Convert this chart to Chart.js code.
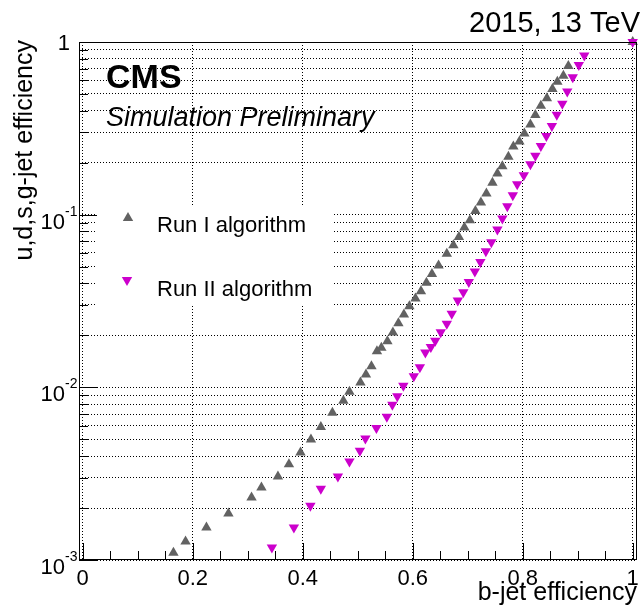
<!DOCTYPE html>
<html>
<head>
<meta charset="utf-8">
<script src="https://cdn.jsdelivr.net/npm/chart.js@4.4.1/dist/chart.umd.min.js"></script>
<style>
  html, body { margin: 0; padding: 0; background: #fff; }
  #wrap { width: 643px; height: 605px; position: relative; }
</style>
</head>
<body>
<div id="wrap"><canvas id="plot"></canvas></div>
<script>
// b-tag performance curves

const runIBEff = [0.165, 0.187, 0.225, 0.265, 0.307, 0.325, 0.355, 0.375, 0.396, 0.415,
  0.433, 0.454, 0.474, 0.485, 0.505, 0.515, 0.525, 0.535, 0.543, 0.554,
  0.564, 0.574, 0.584, 0.594, 0.605, 0.615, 0.625, 0.635, 0.647, 0.662,
  0.674, 0.684, 0.694, 0.704, 0.714, 0.724, 0.734, 0.745, 0.754, 0.763,
  0.774, 0.783, 0.794, 0.803, 0.814, 0.823, 0.833, 0.844, 0.854, 0.863,
  0.874, 0.883, 1.0];
const runIMistag = [1.10e-3, 1.28e-3, 1.54e-3, 1.86e-3, 2.30e-3, 2.63e-3, 3.05e-3, 3.59e-3, 4.20e-3, 4.99e-3,
  5.89e-3, 7.13e-3, 8.37e-3, 9.44e-3, 1.065e-2, 1.185e-2, 1.324e-2, 1.618e-2, 1.693e-2, 1.849e-2,
  2.077e-2, 2.351e-2, 2.641e-2, 2.952e-2, 3.272e-2, 3.607e-2, 4.035e-2, 4.526e-2, 5.085e-2, 5.944e-2,
  6.643e-2, 7.424e-2, 8.415e-2, 9.28e-2, 0.1051, 0.1176, 0.1326, 0.1528, 0.1733, 0.1910,
  0.2163, 0.2478, 0.2649, 0.2956, 0.3333, 0.3774, 0.4275, 0.4719, 0.5343, 0.5891,
  0.6383, 0.725, 1.0];

const runIIBEff = [0.344, 0.384, 0.414, 0.433, 0.464, 0.485, 0.504, 0.514, 0.534, 0.553,
  0.563, 0.572, 0.583, 0.602, 0.613, 0.623, 0.633, 0.641, 0.651, 0.662,
  0.671, 0.682, 0.692, 0.702, 0.713, 0.723, 0.733, 0.743, 0.754, 0.763,
  0.772, 0.782, 0.790, 0.802, 0.814, 0.823, 0.833, 0.843, 0.853, 0.862,
  0.872, 0.881, 0.891, 0.902, 0.912, 1.0];
const runIIMistag = [1.18e-3, 1.54e-3, 2.06e-3, 2.59e-3, 3.05e-3, 3.72e-3, 4.29e-3, 5.06e-3, 5.81e-3, 6.76e-3,
  7.93e-3, 8.89e-3, 1.023e-2, 1.161e-2, 1.305e-2, 1.590e-2, 1.711e-2, 1.859e-2, 2.085e-2, 2.333e-2,
  2.667e-2, 3.186e-2, 3.558e-2, 4.079e-2, 4.693e-2, 5.315e-2, 6.131e-2, 6.915e-2, 8.193e-2, 9.49e-2,
  0.1119, 0.1296, 0.1501, 0.1693, 0.1961, 0.2197, 0.2495, 0.2851, 0.3259, 0.3789,
  0.4390, 0.5167, 0.6248, 0.7364, 0.8360, 1.0];

// axis ticks
const xTickValues = [0, 0.2, 0.4, 0.6, 0.8, 1];
const xTickLabels = ["0", "0.2", "0.4", "0.6", "0.8", "1"];
const xMinorTicks = [0.05, 0.1, 0.15, 0.25, 0.3, 0.35, 0.45, 0.5, 0.55, 0.65, 0.7, 0.75, 0.85, 0.9, 0.95];
const yDecades = [1e-3, 1e-2, 1e-1, 1];
const yDecadeExp = ["-3", "-2", "-1", ""];
const yMinorSteps = [2, 3, 4, 5, 6, 7, 8, 9];

const grayColor = "#626262";
const magentaColor = "#cc00cc";
const markerRadius = 6;
const font = "'Liberation Sans', Arial, Helvetica, sans-serif";

function toPoints(xs, ys) {
  return xs.map((x, i) => ({ x: x, y: ys[i] }));
}

// all horizontal grid positions: 1..9 x 10^n
function yGridValues() {
  const vals = [];
  yDecades.forEach((d, i) => {
    vals.push(d);
    if (i < yDecades.length - 1) {
      yMinorSteps.forEach((s) => vals.push(+(s * d).toPrecision(3)));
    }
  });
  return vals;
}

function drawTriangle(ctx, x, y, r, down, color) {
  ctx.save();
  ctx.translate(x, y);
  if (down) ctx.rotate(Math.PI);
  ctx.beginPath();
  ctx.moveTo(0, -r);
  ctx.lineTo(r * 0.866, r * 0.5);
  ctx.lineTo(-r * 0.866, r * 0.5);
  ctx.closePath();
  ctx.fillStyle = color;
  ctx.fill();
  ctx.restore();
}

// ROOT-like frame, ticks, labels and texts
const rootStyle = {
  id: "rootStyle",
  beforeDatasetsDraw(chart) {
    const ctx = chart.ctx;
    ctx.save();
    // legend box hides the grid
    ctx.fillStyle = "#fff";
    ctx.fillRect(97, 207, 236, 99);
    drawTriangle(ctx, 128, 218, markerRadius, false, grayColor);
    drawTriangle(ctx, 127, 280, markerRadius, true, magentaColor);
    ctx.fillStyle = "#000";
    ctx.font = "22px " + font;
    ctx.textBaseline = "alphabetic";
    ctx.textAlign = "left";
    ctx.fillText("Run I algorithm", 157, 232);
    ctx.fillText("Run II algorithm", 157, 296);
    ctx.restore();
  },
  afterDraw(chart) {
    const ctx = chart.ctx;
    const area = chart.chartArea;
    const xs = chart.scales.x;
    const ys = chart.scales.y;
    ctx.save();
    ctx.strokeStyle = "#000";
    ctx.lineWidth = 1;
    ctx.strokeRect(area.left + 0.5, area.top + 0.5, area.right - area.left - 1, area.bottom - area.top - 1);

    // x ticks pointing up
    ctx.beginPath();
    xTickValues.forEach((v) => {
      const px = Math.round(xs.getPixelForValue(v)) + 0.5;
      ctx.moveTo(px, area.bottom);
      ctx.lineTo(px, area.bottom - 17);
    });
    xMinorTicks.forEach((v) => {
      const px = Math.round(xs.getPixelForValue(v)) + 0.5;
      ctx.moveTo(px, area.bottom);
      ctx.lineTo(px, area.bottom - 9);
    });
    // y ticks pointing right
    yGridValues().forEach((v) => {
      const py = Math.round(ys.getPixelForValue(v)) + 0.5;
      const major = yDecades.indexOf(v) >= 0;
      ctx.moveTo(area.left, py);
      ctx.lineTo(area.left + (major ? 18 : 9), py);
    });
    ctx.stroke();

    // x labels
    ctx.fillStyle = "#000";
    ctx.font = "22px " + font;
    ctx.textAlign = "center";
    ctx.textBaseline = "alphabetic";
    xTickValues.forEach((v, i) => {
      ctx.fillText(xTickLabels[i], xs.getPixelForValue(v), 585);
    });

    // y labels 10^n
    yDecades.forEach((v, i) => {
      const py = ys.getPixelForValue(v);
      if (yDecadeExp[i] === "") {
        ctx.font = "22px " + font;
        ctx.textAlign = "right";
        ctx.fillText("1", 70, py + 8);
        return;
      }
      ctx.font = "14px " + font;
      ctx.textAlign = "left";
      ctx.fillText(yDecadeExp[i], 65, py + 1);
      ctx.font = "22px " + font;
      ctx.textAlign = "right";
      ctx.fillText("10", 65, py + 14);
    });

    // axis titles
    ctx.font = "25px " + font;
    ctx.textAlign = "right";
    ctx.fillText("b-jet efficiency", 637, 600);
    ctx.save();
    ctx.translate(32, 40);
    ctx.rotate(-Math.PI / 2);
    ctx.fillText("u,d,s,g-jet efficiency", 0, 0);
    ctx.restore();

    // top labels
    ctx.font = "29px " + font;
    ctx.textAlign = "right";
    ctx.fillText("2015, 13 TeV", 640, 32);
    ctx.textAlign = "left";
    ctx.font = "bold 34px " + font;
    ctx.fillText("CMS", 106, 88);
    ctx.font = "italic 27px " + font;
    ctx.fillText("Simulation Preliminary", 106, 126);
    ctx.restore();
  },
};

function plotEfficiency() {
  const ctx = document.getElementById("plot").getContext("2d");
  const chart = new Chart(ctx, {
    type: "scatter",
    data: {
      datasets: [
        {
          label: "Run II algorithm",
          data: toPoints(runIIBEff, runIIMistag),
          backgroundColor: magentaColor,
          borderColor: magentaColor,
          borderWidth: 0,
          pointStyle: "triangle",
          rotation: 180,
          pointRadius: markerRadius,
          clip: false,
        },
        {
          label: "Run I algorithm",
          data: toPoints(runIBEff, runIMistag),
          backgroundColor: grayColor,
          borderColor: grayColor,
          borderWidth: 0,
          pointStyle: "triangle",
          pointRadius: markerRadius,
          clip: false,
        },
      ],
    },
    options: {
      responsive: true,
      maintainAspectRatio: false,
      animation: false,
      events: [],
      layout: { padding: { left: 79, right: 2, top: 42, bottom: 45 } },
      plugins: { legend: { display: false }, tooltip: { enabled: false } },
      scales: {
        x: {
          type: "linear",
          min: -0.0067,
          max: 1.0078,
          afterBuildTicks: (scale) => {
            scale.ticks = xTickValues.map((v) => ({ value: v }));
          },
          afterFit: (scale) => { scale.height = 0; },
          ticks: { display: false },
          border: { display: false, dash: [1, 2] },
          grid: { color: "#000", lineWidth: 1, drawTicks: false },
        },
        y: {
          type: "logarithmic",
          min: 1e-3,
          max: 1,
          afterBuildTicks: (scale) => {
            scale.ticks = yGridValues().map((v) => ({ value: v }));
          },
          afterFit: (scale) => { scale.width = 0; },
          ticks: { display: false },
          border: { display: false, dash: [1, 2] },
          grid: { color: "#000", lineWidth: 1, drawTicks: false },
        },
      },
    },
    plugins: [rootStyle],
  });
  return chart;
}

plotEfficiency();
</script>
</body>
</html>
